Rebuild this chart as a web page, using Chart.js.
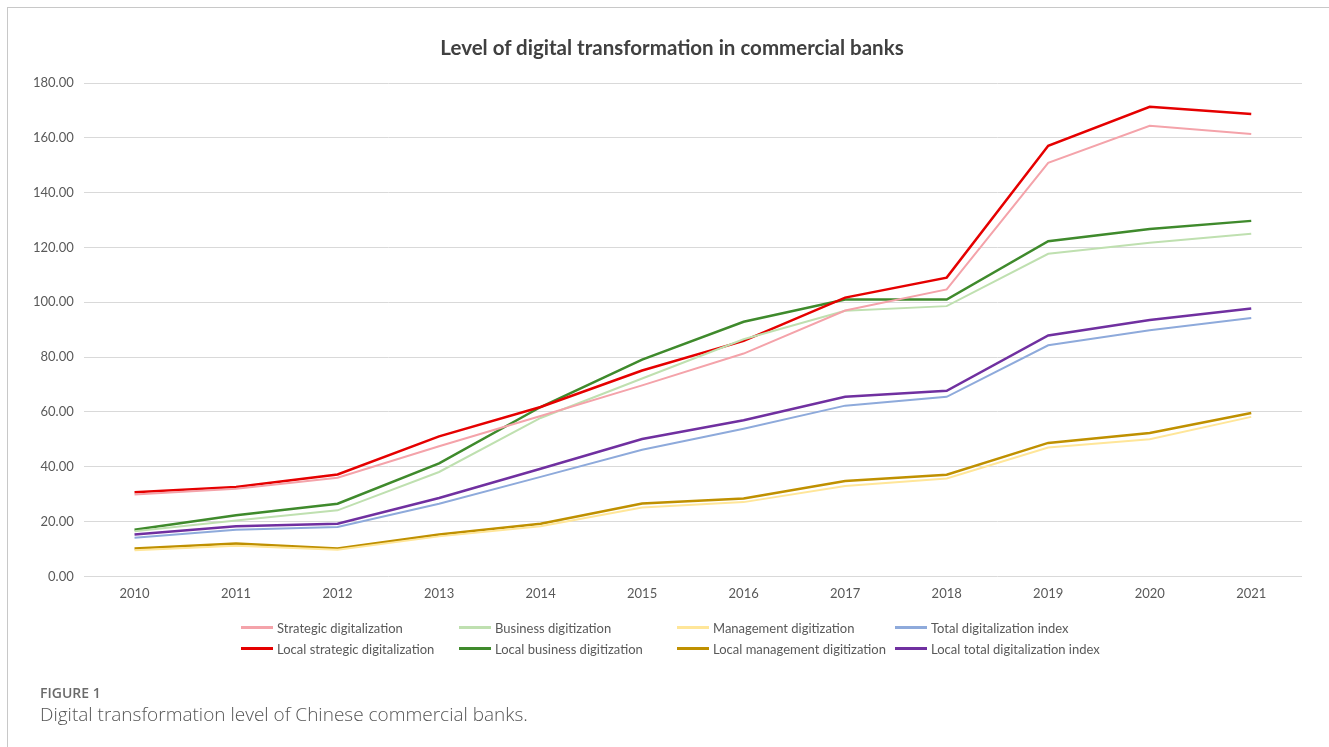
<!DOCTYPE html>
<html>
<head>
<meta charset="utf-8">
<script src="https://cdn.jsdelivr.net/npm/chart.js@4.4.1/dist/chart.umd.min.js"></script>
<style>
    body { margin: 0; background: #fff; width: 1329px; height: 747px; overflow: hidden; position: relative; font-family: Lato, sans-serif; }
    #frame { position: absolute; left: 7px; top: 7px; right: 0; bottom: 0; border-top: 1px solid #c8c8c8; border-left: 1px solid #c8c8c8; }
    #wrap { position: absolute; left: 0; top: 0; width: 1329px; height: 747px; }
    #title { position: absolute; left: 372px; width: 600px; top: 35px; text-align: center; font-family: Lato, sans-serif; font-size: 20.5px; font-weight: bold; color: #404040; }
    #legend { position: absolute; left: 241px; top: 619px; display: grid; grid-template-columns: repeat(4, 218px); row-gap: 4px; }
    .item { display: flex; align-items: center; height: 17px; font-size: 13px; color: #595959; white-space: nowrap; }
    .swatch { width: 32px; margin-right: 4px; }
    #caption { position: absolute; left: 40px; top: 683px; color: #666; }
    #caption .fig { font-family: "Open Sans", sans-serif; font-size: 14px; font-weight: 600; color: #6b6b6b; }
    #caption .txt { font-family: "Open Sans", sans-serif; font-size: 19px; font-weight: 300; color: #555; margin-top: -1px; }
</style>
</head>
<body>
<div id="frame"></div>
<div id="wrap"><canvas id="lineChart" width="1329" height="747"></canvas></div>
<div id="title">Level of digital transformation in commercial banks</div>
<div id="legend"></div>
<div id="caption">
    <div class="fig">FIGURE 1</div>
    <div class="txt">Digital transformation level of Chinese commercial banks.</div>
</div>
<script>
const years = ['2010', '2011', '2012', '2013', '2014', '2015', '2016', '2017', '2018', '2019', '2020', '2021'];

const strategic = [29.9, 32.0, 36.0, 47.5, 58.5, 69.7, 81.3, 97.0, 104.7, 150.9, 164.4, 161.4];
const business = [16.5, 20.4, 24.1, 38.1, 57.8, 72.2, 86.5, 96.9, 98.6, 117.7, 121.7, 125.0];
const management = [9.5, 11.2, 9.7, 14.6, 18.3, 25.1, 27.1, 33.0, 35.7, 47.0, 50.0, 58.2];
const total = [14.1, 17.0, 18.0, 26.5, 36.3, 46.2, 53.9, 62.3, 65.5, 84.3, 89.8, 94.3];
const localStrategic = [30.7, 32.6, 37.2, 51.1, 61.8, 75.1, 85.9, 101.7, 109.0, 157.1, 171.3, 168.7];
const localBusiness = [17.0, 22.3, 26.5, 41.2, 61.8, 79.1, 92.9, 101.0, 101.0, 122.3, 126.7, 129.7];
const localManagement = [10.2, 12.0, 10.2, 15.3, 19.2, 26.6, 28.4, 34.8, 37.1, 48.7, 52.3, 59.6];
const localTotal = [15.3, 18.3, 19.2, 28.6, 39.3, 50.1, 57.0, 65.5, 67.7, 87.9, 93.5, 97.7];

const yMin = 0;
const yMax = 180;
const yStep = 20;

function series(label, data, color, width) {
    return {
        label: label,
        data: data,
        borderColor: color,
        backgroundColor: color,
        borderWidth: width,
        pointRadius: 0,
        tension: 0,
        fill: false
    };
}

const ctx = document.getElementById('lineChart').getContext('2d');

const chart = new Chart(ctx, {
    type: 'line',
    data: {
        labels: years,
        datasets: [
            series('Strategic digitalization', strategic, '#f4a3aa', 2),
            series('Business digitization', business, '#bfe0b0', 2),
            series('Management digitization', management, '#ffe699', 2),
            series('Total digitalization index', total, '#8eaadb', 2),
            series('Local strategic digitalization', localStrategic, '#e50000', 2.5),
            series('Local business digitization', localBusiness, '#3f8a2c', 2.5),
            series('Local management digitization', localManagement, '#bf9000', 2.5),
            series('Local total digitalization index', localTotal, '#7030a0', 2.5)
        ]
    },
    options: {
        responsive: false,
        animation: false,
        layout: {
            padding: { left: 23, right: 27, top: 83, bottom: 143 }
        },
        plugins: {
            legend: { display: false },
            tooltip: { enabled: false },
            title: { display: false }
        },
        scales: {
            x: {
                offset: true,
                grid: { display: false },
                border: { display: false },
                ticks: {
                    color: '#595959',
                    font: { family: 'Lato', size: 13 },
                    padding: 2,
                    maxRotation: 0
                }
            },
            y: {
                min: yMin,
                max: yMax,
                grid: { color: '#d9d9d9', lineWidth: 1, drawTicks: false },
                border: { display: false },
                ticks: {
                    stepSize: yStep,
                    color: '#595959',
                    font: { family: 'Lato', size: 13 },
                    padding: 10,
                    callback: (v) => v.toFixed(2)
                }
            }
        }
    }
});

// legend laid out in Excel-style columns
const legendBox = document.getElementById('legend');
chart.data.datasets.forEach((ds) => {
    const item = document.createElement('div');
    item.className = 'item';
    const sw = document.createElement('span');
    sw.className = 'swatch';
    sw.style.height = (ds.borderWidth + 0.5) + 'px';
    sw.style.background = ds.borderColor;
    const txt = document.createElement('span');
    txt.textContent = ds.label;
    item.appendChild(sw);
    item.appendChild(txt);
    legendBox.appendChild(item);
});
</script>
</body>
</html>
